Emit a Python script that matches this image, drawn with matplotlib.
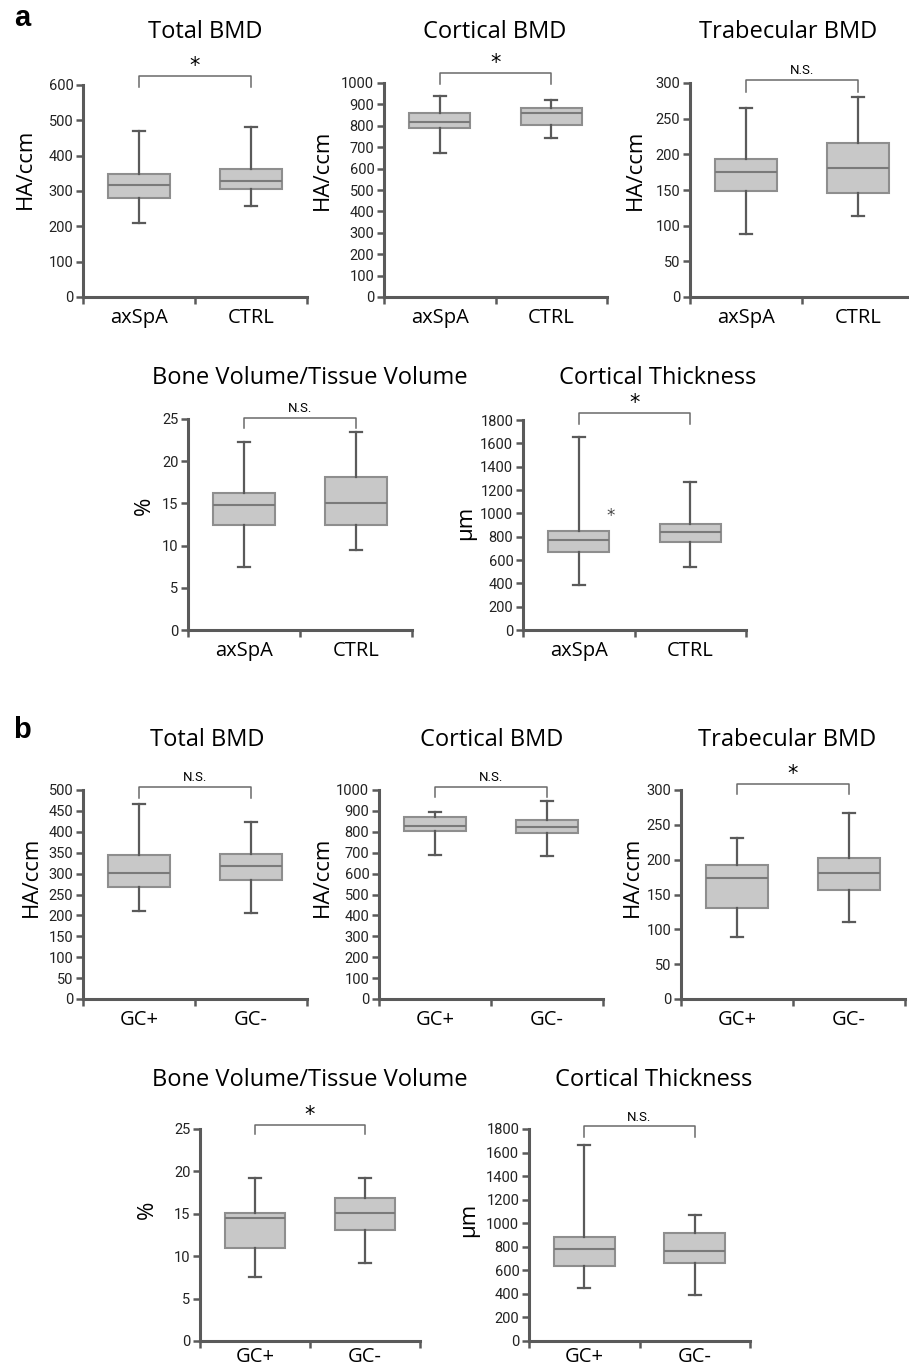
import matplotlib
matplotlib.use("Agg")
import matplotlib.pyplot as plt  # noqa: E402

W, H = 909, 1365

groups_a = ["axSpA", "CTRL"]
groups_b = ["GC+", "GC-"]

# (whisker low, q1, median, q3, whisker high) per group
a_total_bmd = [(209, 279, 316, 347, 470), (258, 305, 327, 363, 481)]
a_cortical_bmd = [(671, 791, 820, 858, 938), (744, 805, 861, 885, 919)]
a_trabecular_bmd = [(89, 149, 175, 193, 265), (113, 146, 181, 216, 280)]
a_bvtv = [(7.5, 12.5, 14.8, 16.2, 22.3), (9.5, 12.5, 15.1, 18.1, 23.5)]
a_cort_thick = [(386, 666, 769, 849, 1657), (540, 754, 843, 911, 1271)]

b_total_bmd = [(211, 269, 302, 345, 466), (205, 284, 319, 346, 423)]
b_cortical_bmd = [(688, 803, 830, 869, 893), (682, 793, 825, 857, 947)]
b_trabecular_bmd = [(89, 130, 173, 193, 231), (110, 157, 181, 202, 267)]
b_bvtv = [(7.5, 11.0, 14.5, 15.1, 19.2), (9.2, 13.05, 15.1, 16.9, 19.2)]
b_cort_thick = [(448, 635, 777, 879, 1661), (391, 661, 768, 913, 1072)]

TICK_FONT = ["Roboto", "DejaVu Sans"]
TEXT_FONT = ["Open Sans", "DejaVu Sans"]
DARK = "#5a5a5a"

plt.rcParams["font.family"] = TEXT_FONT

fig = plt.figure(figsize=(W / 100, H / 100), dpi=100)


def add_ax(x0, x1, y_top, y_bot):
    return fig.add_axes([x0 / W, 1 - y_bot / H, (x1 - x0) / W, (y_bot - y_top) / H])


def panel(ax, data, groups, ytop, ystep, sig, br_y, leg_y, xpad=8):
    stats = []
    for lo, q1, med, q3, hi in data:
        stats.append({"whislo": lo, "q1": q1, "med": med, "q3": q3, "whishi": hi, "fliers": []})
    ax.bxp(stats, positions=[0.5, 1.5], widths=0.55, capwidths=0.11, patch_artist=True,
           showfliers=False,
           boxprops=dict(facecolor="#c8c8c8", edgecolor="#8e8e8e", linewidth=1.5),
           medianprops=dict(color="#7a7a7a", linewidth=1.5),
           whiskerprops=dict(color=DARK, linewidth=1.6),
           capprops=dict(color=DARK, linewidth=1.6))
    ax.set_xlim(0, 2)
    ax.set_ylim(0, ytop)
    n = int(round(ytop / ystep))
    ax.set_yticks([i * ystep for i in range(n + 1)])
    ax.set_yticklabels([f"{i * ystep:g}" for i in range(n + 1)], fontfamily=TICK_FONT,
                       fontsize=10.5, color="#222222")
    ax.set_xticks([0, 1, 2])
    ax.set_xticklabels(["", "", ""])
    ax.set_xticks([0.5, 1.5], minor=True)
    ax.set_xticklabels(groups, minor=True, fontsize=14.5)
    ax.tick_params(axis="x", which="minor", length=0, pad=xpad)
    ax.tick_params(axis="x", which="major", length=5, width=1.8, color=DARK)
    ax.tick_params(axis="y", length=5, width=1.8, color=DARK, pad=2)
    for side in ("top", "right"):
        ax.spines[side].set_visible(False)
    for side in ("left", "bottom"):
        ax.spines[side].set_color(DARK)
        ax.spines[side].set_linewidth(2.2)
    ax.plot([0.5, 0.5, 1.5, 1.5], [leg_y, br_y, br_y, leg_y], color="#6a6a6a", lw=1.1,
            clip_on=False)
    if sig == "*":
        ax.annotate("*", xy=(1, br_y), xytext=(0, 0), textcoords="offset points",
                    ha="center", va="bottom", fontsize=15, fontfamily=["DejaVu Sans"],
                    annotation_clip=False)
    else:
        ax.annotate(sig, xy=(1, br_y), xytext=(0, 2), textcoords="offset points",
                    ha="center", va="bottom", fontsize=9.5, fontfamily=TICK_FONT,
                    annotation_clip=False)


def ylab(txt, x, y):
    fig.text(x / W, 1 - y / H, txt, ha="center", va="center", rotation=90, fontsize=16)


# --- a ---
ax = add_ax(83, 307, 85, 297)
panel(ax, a_total_bmd, groups_a, 600, 100, "*", 625, 593)
ax = add_ax(384, 607, 83, 297)
panel(ax, a_cortical_bmd, groups_a, 1000, 100, "*", 1047, 997)
ax = add_ax(690, 914, 83, 297)
panel(ax, a_trabecular_bmd, groups_a, 300, 50, "N.S.", 304, 288)
ax = add_ax(188, 412, 419, 630)
panel(ax, a_bvtv, groups_a, 25, 5, "N.S.", 25.15, 23.9)
ax = add_ax(523, 746, 420, 630)
panel(ax, a_cort_thick, groups_a, 1800, 200, "*", 1860, 1763)
ax.text(0.79, 980, "*", ha="center", va="center", fontsize=12, color="#444444",
        fontfamily=["DejaVu Sans"])

# --- b ---
ax = add_ax(83, 307, 790, 999)
panel(ax, b_total_bmd, groups_b, 500, 50, "N.S.", 508, 482)
ax = add_ax(379, 603, 790, 999)
panel(ax, b_cortical_bmd, groups_b, 1000, 100, "N.S.", 1016, 965)
ax = add_ax(681, 905, 790, 999)
panel(ax, b_trabecular_bmd, groups_b, 300, 50, "*", 308.6, 294)
ax = add_ax(200, 420, 1129, 1341)
panel(ax, b_bvtv, groups_b, 25, 5, "*", 25.5, 24.4, xpad=4)
ax = add_ax(529, 750, 1129, 1341)
panel(ax, b_cort_thick, groups_b, 1800, 200, "N.S.", 1823, 1733, xpad=4)

for txt, x, y in [("HA/ccm", 25, 169), ("HA/ccm", 322, 170), ("HA/ccm", 635, 170),
                  ("%", 144, 506), ("µm", 466, 523),
                  ("HA/ccm", 31, 877), ("HA/ccm", 322, 877), ("HA/ccm", 632, 877),
                  ("%", 147, 1210), ("µm", 469, 1220)]:
    ylab(txt, x, y)

titles = [
    ("Total BMD", 205, 32), ("Cortical BMD", 495, 32), ("Trabecular BMD", 788, 32),
    ("Bone Volume/Tissue Volume", 310, 378), ("Cortical Thickness", 658, 378),
    ("Total BMD", 207, 740), ("Cortical BMD", 492, 740), ("Trabecular BMD", 787, 740),
    ("Bone Volume/Tissue Volume", 310, 1080), ("Cortical Thickness", 654, 1080),
]
for txt, x, y in titles:
    fig.text(x / W, 1 - y / H, txt, ha="center", va="center", fontsize=17)

fig.text(22 / W, 1 - 18 / H, "a", ha="center", va="center", fontsize=21, fontweight="bold",
         fontfamily=["Liberation Sans", "DejaVu Sans"])
fig.text(22 / W, 1 - 730 / H, "b", ha="center", va="center", fontsize=21, fontweight="bold",
         fontfamily=["Liberation Sans", "DejaVu Sans"])

fig.savefig("out.png", dpi=100)
